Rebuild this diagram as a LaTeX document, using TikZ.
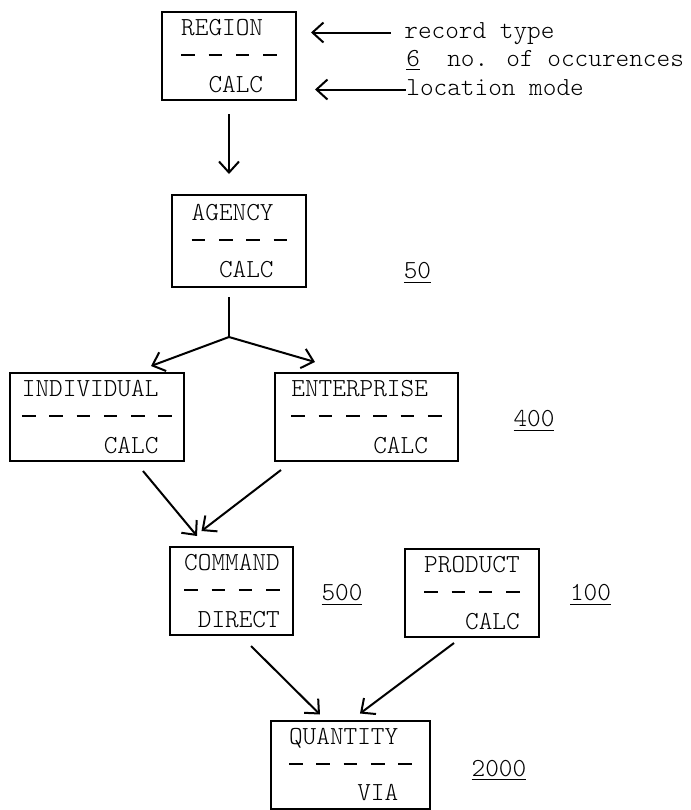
\documentclass[tikz,border=0pt]{standalone}
\usepackage{tikz}
\usetikzlibrary{arrows.meta}
\usetikzlibrary{positioning}
\tikzstyle{every node}+=[inner sep=0pt]
\tikzstyle{record} = [rectangle, draw, line width=1pt, font=\ttfamily\fontseries{l}\fontsize{13}{14.2}\selectfont, minimum height=44pt]
\tikzstyle{line} = [draw, line width=1pt, -{Straight Barb[length=5.5pt,width=10pt]}]
\tikzstyle{value} = [font=\ttfamily\fontseries{l}\fontsize{13}{14}\selectfont]
\tikzstyle{note} = [font=\ttfamily\fontseries{l}\fontsize{13}{14}\selectfont, anchor=base west, text height=8pt, text depth=2.5pt]
% row of typed dashes, one character wide each
\newcommand{\sepdashes}[1]{\rule[.3em]{.525em}{1pt}\foreach \k in {2,...,#1}{\hspace{.525em}\rule[.3em]{.525em}{1pt}}}

\begin{document}
\begin{tikzpicture}[node distance=88pt, every text node part/.style={align=left}]
            \useasboundingbox (-114.5pt,28pt) rectangle (231pt,-377pt);
            % Place nodes
            \node [record, minimum width=67pt] (region) {REGION\\\sepdashes{4}\\~~CALC};
            \node [note] (rtype) at ([xshift=53.5pt, yshift=9pt]region.east) {record type};
            \node [note] (nocc) at ([xshift=54.5pt, yshift=-5pt]region.east) {\underline{6}~~no. of occurences};
            \node [note] (lmode) at ([xshift=54.5pt, yshift=-19.5pt]region.east) {location mode};
            \node [record, minimum width=67pt, minimum height=46pt, below of=region, node distance=92.5pt, xshift=5.25pt] (agency) {AGENCY\\\sepdashes{4}\\~~CALC};
            \node [value, right of=agency, node distance=89pt, yshift=-16pt] (n50) {\underline{50}};
            \node [record, minimum width=87pt, below of=agency, node distance=88pt, xshift=-71.25pt] (individual) {INDIVIDUAL\\\sepdashes{6}\\~~~~~~CALC};
            \node [record, minimum width=91.5pt, below of=agency, node distance=88pt, xshift=63.5pt] (enterprise) {ENTERPRISE\\\sepdashes{6}\\~~~~~~CALC};
            \node [value, right of=enterprise, node distance=83.75pt, yshift=-2pt] (n400) {\underline{400}};
            \node [record, minimum width=61.5pt, below of=individual, node distance=87pt, xshift=67.5pt] (command) {COMMAND\\\sepdashes{4}\\~DIRECT};
            \node [value, right of=command, node distance=55pt, yshift=-2pt] (n500) {\underline{500}};
            \node [record, minimum width=67pt, right of=command, node distance=120pt, yshift=-1pt] (product) {PRODUCT\\\sepdashes{4}\\~~~CALC};
            \node [value, right of=product, node distance=59.25pt, yshift=-1pt] (n100) {\underline{100}};
            \node [record, minimum width=79.5pt, below of=command, node distance=86.75pt, xshift=59.25pt] (quantity) {QUANTITY\\\sepdashes{5}\\~~~~~VIA};
            \node [value, right of=quantity, node distance=74.25pt, yshift=-3pt] (n2000) {\underline{2000}};
            \coordinate (fork) at ([xshift=-5.25pt, yshift=-24.5pt]agency.south);
            % Draw edges
            \path [line, shorten <=6.5pt, shorten >=7pt] (rtype.west) -- (rtype.west -| region.east);
            \path [line, shorten >=9pt] (lmode.west) -- (lmode.west -| region.east);
            \path [line, shorten <=6.5pt, shorten >=10pt] (region.south) -- (region.south |- agency.north);
            \draw [line width=1pt, shorten <=4.5pt] (agency.south -| fork) -- (fork);
            \path [line] (fork) -- ([xshift=27pt, yshift=3pt]individual.north);
            \path [line] (fork) -- ([xshift=-25.75pt, yshift=5pt]enterprise.north);
            \path [line] ([xshift=23pt, yshift=-4.5pt]individual.south) -- ([xshift=-17.5pt, yshift=5pt]command.north);
            \path [line] ([xshift=-42.75pt, yshift=-4pt]enterprise.south) -- ([xshift=-15.25pt, yshift=7.5pt]command.north);
            \path [line] ([xshift=9.5pt, yshift=-5pt]command.south) -- ([xshift=-15.25pt, yshift=2.5pt]quantity.north);
            \path [line] ([xshift=-9pt, yshift=-2.5pt]product.south) -- ([xshift=4.75pt, yshift=3pt]quantity.north);
\end{tikzpicture}
\end{document}
